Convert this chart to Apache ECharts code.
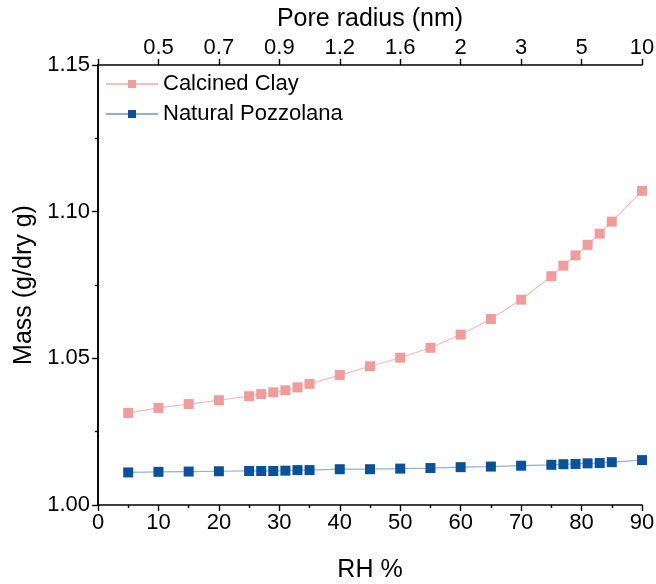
<!DOCTYPE html>
<html><head><meta charset="utf-8">
<script src="https://cdn.jsdelivr.net/npm/echarts@6/dist/echarts.min.js"></script>
<style>html,body{margin:0;padding:0;background:#fff}#c{width:656px;height:584px}</style>
</head><body><div id="c"></div>
<script>
var rh = [5,10,15,20,25,27,29,31,33,35,40,45,50,55,60,65,70,75,77,79,81,83,85,90];
var calcinedClay = [1.0314,1.0331,1.0344,1.0357,1.0371,1.0378,1.0384,1.0391,1.0401,1.0413,1.0443,1.0473,1.0502,1.0536,1.0581,1.0634,1.0700,1.0780,1.0816,1.0851,1.0887,1.0925,1.0966,1.1071];
var naturalPozzolana = [1.0111,1.0113,1.0114,1.0115,1.0116,1.0116,1.0116,1.0117,1.0119,1.0119,1.0122,1.0122,1.0124,1.0126,1.0129,1.0131,1.0134,1.0137,1.0139,1.0140,1.0142,1.0143,1.0146,1.0153];
var poreTickRH = [0,10,20,30,40,50,60,70,80,90];
var poreTickLabels = ['','0.5','0.7','0.9','1.2','1.6','2','3','5','10'];

var font = 'Arial, "Liberation Sans", sans-serif';
function pair(xs, ys){ return xs.map(function(x,i){return [x, ys[i]];}); }
var chart = echarts.init(document.getElementById('c'), null, {renderer:'canvas'});
var axisLine = {show:true, lineStyle:{color:'#000', width:1.6}};
chart.setOption({
  animation:false,
  backgroundColor:'#fff',
  grid:{left:98, right:14, top:65, bottom:79, containLabel:false, outerBoundsMode:'none'},
  legend:{
    left:100, top:68, orient:'vertical', itemWidth:52, itemHeight:10, itemGap:8,
    textStyle:{fontFamily:font, fontSize:22, color:'#000'},
    data:['Calcined Clay','Natural Pozzolana']
  },
  xAxis:[{
    type:'value', min:0, max:90, interval:10, position:'bottom',
    name:'RH %', nameLocation:'middle', nameGap:53,
    nameTextStyle:{fontFamily:font, fontSize:25, color:'#000'},
    axisLine:axisLine,
    axisTick:{show:true, inside:false, length:6, lineStyle:{color:'#000', width:1.4}},
    minorTick:{show:true, splitNumber:2, length:3, lineStyle:{color:'#000', width:1.4}},
    splitLine:{show:false},
    axisLabel:{fontFamily:font, fontSize:22, color:'#000', margin:7}
  },{
    type:'value', min:0, max:90, interval:10, position:'top',
    name:'Pore radius (nm)', nameLocation:'middle', nameGap:31,
    nameTextStyle:{fontFamily:font, fontSize:25, color:'#000'},
    axisLine:axisLine,
    axisTick:{show:true, inside:false, length:6, lineStyle:{color:'#000', width:1.4}},
    splitLine:{show:false},
    axisLabel:{fontFamily:font, fontSize:22, color:'#000', margin:6,
      formatter:function(v){var i=poreTickRH.indexOf(Math.round(v)); return i>=0?poreTickLabels[i]:'';}}
  }],
  yAxis:[{
    type:'value', min:1.0, max:1.15, interval:0.05,
    name:'Mass (g/dry g)', nameLocation:'middle', nameGap:60,
    nameTextStyle:{fontFamily:font, fontSize:25, color:'#000'},
    axisLine:axisLine,
    axisTick:{show:true, inside:false, length:6, lineStyle:{color:'#000', width:1.4}},
    minorTick:{show:true, splitNumber:2, length:3, lineStyle:{color:'#000', width:1.4}},
    splitLine:{show:false},
    axisLabel:{fontFamily:font, fontSize:22, color:'#000', margin:8,
      formatter:function(v){return v.toFixed(2);}}
  },{
    type:'value', min:1.0, max:1.15, position:'right',
    axisLine:axisLine, axisTick:{show:false}, axisLabel:{show:false}, splitLine:{show:false}
  }],
  series:[{
    name:'Calcined Clay', type:'line', xAxisIndex:0, yAxisIndex:0,
    data:pair(rh, calcinedClay), symbol:'rect', symbolSize:10,
    itemStyle:{color:'#ef9c9c'}, lineStyle:{color:'#f7bcbc', width:1.2}, z:3
  },{
    name:'Natural Pozzolana', type:'line', xAxisIndex:0, yAxisIndex:0,
    data:pair(rh, naturalPozzolana), symbol:'rect', symbolSize:10,
    itemStyle:{color:'#0b5197'}, lineStyle:{color:'#8cb0da', width:1.2}, z:3
  }]
});
</script></body></html>
